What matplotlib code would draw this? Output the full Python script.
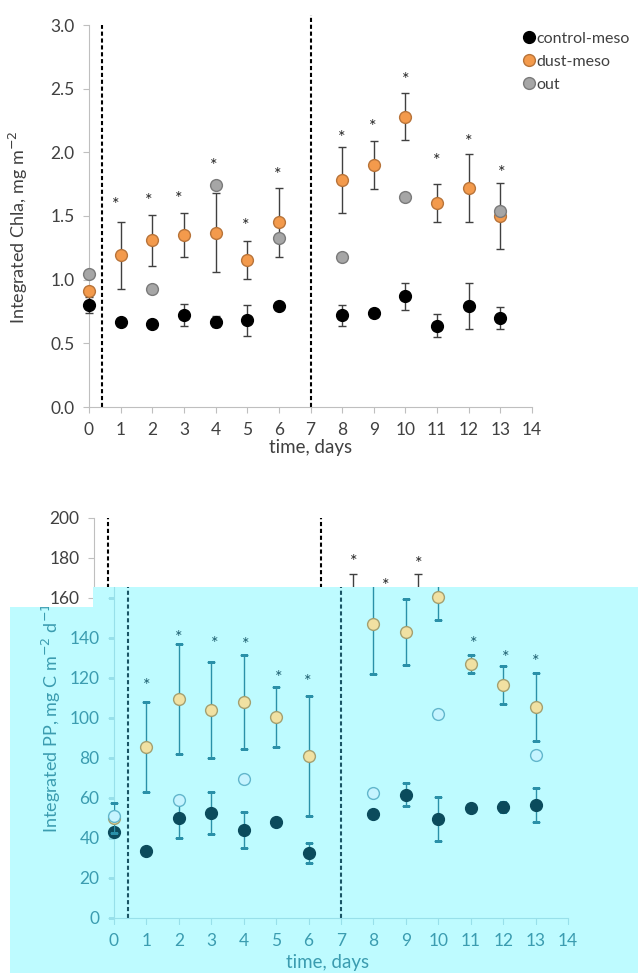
import matplotlib
matplotlib.use("Agg")
import matplotlib.pyplot as plt
from matplotlib.patches import Polygon
from matplotlib.transforms import Bbox, TransformedBbox

plt.rcParams['font.family'] = ['Lato', 'DejaVu Sans']

# дни отбора проб
days = [0, 1, 2, 3, 4, 5, 6, 8, 9, 10, 11, 12, 13]

# интегрированный хлорофилл, mg m-2
chla_control = [0.80, 0.67, 0.65, 0.72, 0.67, 0.68, 0.79, 0.72, 0.74, 0.87, 0.64, 0.79, 0.70]
chla_control_err = [0.06, 0.02, 0.02, 0.085, 0.045, 0.12, 0.02, 0.08, 0.03, 0.105, 0.09, 0.18, 0.085]
chla_dust = [0.91, 1.19, 1.31, 1.35, 1.37, 1.155, 1.45, 1.78, 1.90, 2.28, 1.60, 1.72, 1.50]
chla_dust_err = [0.03, 0.26, 0.20, 0.17, 0.31, 0.15, 0.27, 0.26, 0.19, 0.185, 0.15, 0.27, 0.26]
chla_out_days = [0, 2, 4, 6, 8, 10, 13]
chla_out = [1.045, 0.93, 1.74, 1.33, 1.18, 1.65, 1.54]
chla_star_x = [0.85, 1.9, 2.85, 3.95, 4.96, 5.97, 8.0, 8.95, 10.0, 11.0, 12.0, 13.05]
chla_star_y = [1.59, 1.62, 1.63, 1.89, 1.42, 1.82, 2.11, 2.20, 2.57, 1.93, 2.08, 1.84]

# интегрированная первичная продукция, mg C m-2 d-1
pp_control = [43, 33.5, 50, 52.5, 44, 48, 32.6, 52, 61.7, 49.5, 55, 55.5, 56.6]
pp_control_err = [2, 1.5, 10, 10.5, 9, 2, 5, 2, 5.7, 11, 2, 2.5, 8.5]
pp_dust = [50, 85.5, 109.5, 104, 108, 100.7, 81, 147, 143, 160.5, 127, 116.5, 105.7]
pp_dust_err = [7.5, 22.5, 27.5, 24, 23.5, 15, 30, 25, 16.5, 11.5, 4.7, 9.5, 17]
pp_out_days = [0, 2, 4, 8, 10, 13]
pp_out = [51, 59, 69.5, 62.5, 102, 81.5]
pp_star_x = [1.0, 2.0, 3.1, 4.07, 5.07, 5.97, 8.02, 9.0, 10.0, 11.1, 12.07, 13.0]
pp_star_y = [116, 140, 137, 136.5, 120, 118, 178, 166, 177, 137, 130, 128]

labels = ['control-meso', 'dust-meso', 'out']

normal = dict(ctrl='black', ctrl_edge='black', dust='#f39a4c', dust_edge='#b8743a',
              out='#a6a6a6', out_edge='#7a7a7a', err='#404040', star='#262626',
              text='#404040', spine='#bfbfbf', dash='black')
tinted = dict(ctrl='#0b4b5c', ctrl_edge='#0b4b5c', dust='#f1e1a2', dust_edge='#a4a070',
              out='#c6f4ff', out_edge='#62b6cc', err='#2a90a8', star='#1d5f70',
              text='#3b9cb0', spine='#98e0ea', dash='#1a5565')

W, H = 638.0, 973.0
fig = plt.figure(figsize=(6.38, 9.73), dpi=100)


def panel(ax, ctrl, ctrl_err, dust, dust_err, out_days, out, star_x, star_y,
          ymax, ystep, dash_top, ylabel, c, yfmt):
    ms = 8.5
    h1 = ax.errorbar(days, ctrl, yerr=ctrl_err, fmt='o', ms=ms, mfc=c['ctrl'], mec=c['ctrl_edge'],
                     ecolor=c['err'], elinewidth=1, capsize=3, capthick=1, label=labels[0],
                     clip_on=False, zorder=3)
    h2 = ax.errorbar(days, dust, yerr=dust_err, fmt='o', ms=ms, mfc=c['dust'], mec=c['dust_edge'],
                     mew=1, ecolor=c['err'], elinewidth=1, capsize=3, capthick=1, label=labels[1],
                     clip_on=False, zorder=4)
    h3, = ax.plot(out_days, out, 'o', ms=ms, mfc=c['out'], mec=c['out_edge'], mew=1,
                  label=labels[2], clip_on=False, zorder=5)
    for x, y in zip(star_x, star_y):
        ax.text(x, y, '*', ha='center', va='center', fontsize=13, color=c['star'])
    for x, top in zip([0.42, 7.0], dash_top):
        ax.plot([x, x], [0, top], color=c['dash'], lw=1.5, ls=(0, (2, 1.3)), clip_on=False, zorder=2)
    ax.set_xlim(0, 14)
    ax.set_ylim(0, ymax)
    ax.set_xticks(range(0, 15))
    yt = [i * ystep for i in range(int(round(ymax / ystep)) + 1)]
    ax.set_yticks(yt)
    ax.set_yticklabels([yfmt.format(v) for v in yt])
    for s in ['top', 'right']:
        ax.spines[s].set_visible(False)
    for s in ['left', 'bottom']:
        ax.spines[s].set_color(c['spine'])
    ax.tick_params(axis='both', direction='out', length=4.5, color=c['spine'],
                   labelcolor=c['text'], labelsize=12.5)
    ax.tick_params(axis='y', pad=6)
    ax.tick_params(axis='x', pad=6)
    ax.set_xlabel('time, days', fontsize=13.5, color=c['text'])
    ax.set_ylabel(ylabel, fontsize=13, color=c['text'])
    ax.patch.set_alpha(0)
    return [h1[0], h2[0], h3]


# верхний график: хлорофилл
ax1 = fig.add_axes([89 / W, 1 - 407 / H, 443 / W, 382 / H])
hs = panel(ax1, chla_control, chla_control_err, chla_dust, chla_dust_err, chla_out_days, chla_out,
           chla_star_x, chla_star_y, 3.0, 0.5, [3.0, 3.08], 'Integrated Chla, mg m$^{-2}$', normal, '{:.1f}')
ax1.xaxis.set_label_coords(0.5, -0.085)
ax1.yaxis.set_label_coords(-0.133, 0.47)
ax1.legend(hs, labels, loc='upper left', bbox_to_anchor=(0.97, 1.0), frameon=False, fontsize=11.5,
           handlelength=0.5, handletextpad=0.2, labelspacing=0.55, borderaxespad=0,
           labelcolor='#404040')

# нижний график: первичная продукция (почти весь закрыт голубой копией)
ax2 = fig.add_axes([94 / W, 1 - 918 / H, 454 / W, 400 / H], zorder=0)
panel(ax2, pp_control, pp_control_err, pp_dust, pp_dust_err, pp_out_days, pp_out,
      pp_star_x, pp_star_y, 200, 20, [200, 200], 'Integrated PP, mg C m$^{-2}$ d$^{-1}$', normal, '{:.0f}')
ax2.set_xlabel('')
ax2.set_ylabel('')
ax2.tick_params(axis='x', labelbottom=False)
ax2.set_yticklabels(['' if v < 160 else '{:.0f}'.format(v) for v in ax2.get_yticks()])
for t in ax2.texts:
    if t.get_position()[1] < 165:
        t.set_visible(False)

# голубая сдвинутая копия нижнего графика поверх
pts = [(10, 973), (10, 607), (93, 607), (93, 587), (638, 587), (638, 973)]
poly = Polygon([(x / W, 1 - y / H) for x, y in pts], closed=True, transform=fig.transFigure,
               facecolor='#befbff', edgecolor='none', zorder=1)
fig.add_artist(poly)

ax3 = fig.add_axes([114 / W, 1 - 918 / H, 454 / W, 400 / H], zorder=2)
panel(ax3, pp_control, pp_control_err, pp_dust, pp_dust_err, pp_out_days, pp_out,
      pp_star_x, pp_star_y, 200, 20, [200, 200], 'Integrated PP, mg C m$^{-2}$ d$^{-1}$', tinted, '{:.0f}')
ax3.xaxis.set_label_coords(0.47, -0.09)
ax3.yaxis.set_label_coords(-0.112, 0.5)
ax3.set_yticklabels(['' if v > 140 else '{:.0f}'.format(v) for v in ax3.get_yticks()])
for t in ax3.texts:
    if t.get_position()[1] > 170:
        t.set_visible(False)

top_box = TransformedBbox(Bbox([[93 / W, 0], [1, 1 - 587 / H]]), fig.transFigure)
low_box = TransformedBbox(Bbox([[10 / W, 0], [1, 1 - 607 / H]]), fig.transFigure)
for art in ax3.get_children():
    art.set_clip_on(True)
    if isinstance(art, matplotlib.text.Text):
        art.set_clip_box(top_box)
    else:
        art.set_clip_path(poly)
for axis in [ax3.xaxis, ax3.yaxis]:
    for t in axis.get_major_ticks():
        t.tick1line.set_clip_on(True)
        t.tick1line.set_clip_path(poly)
    axis.label.set_clip_box(low_box)
    axis.label.set_clip_on(True)

fig.savefig('out.png', dpi=100)
